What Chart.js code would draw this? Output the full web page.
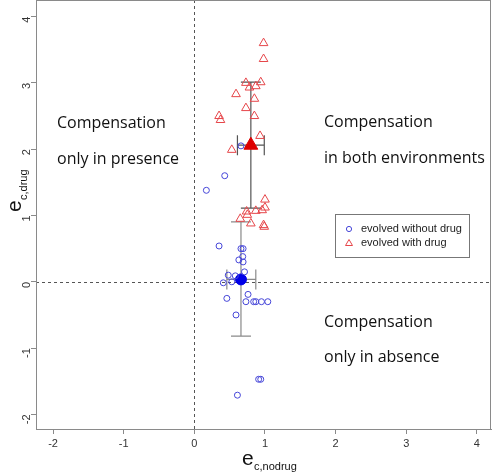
<!DOCTYPE html>
<html>
<head>
<meta charset="utf-8">
<script src="https://cdn.jsdelivr.net/npm/chart.js@4"></script>
<style>
  html, body { margin: 0; padding: 0; background: #fff; }
  #wrap { width: 494px; height: 473px; position: relative; }
</style>
</head>
<body>
<div id="wrap"><canvas id="plot"></canvas></div>
<script>
// evolved without drug (blue circles)
const noDrugX = [0.66, 0.43, 0.17, 0.35, 0.66, 0.69, 0.685, 0.63, 0.69, 0.71, 0.48, 0.58, 0.41,
                 0.53, 0.46, 0.76, 0.73, 0.84, 0.87, 0.95, 1.04, 0.59, 0.91, 0.94, 0.61];
const noDrugY = [2.05, 1.60, 1.38, 0.54, 0.50, 0.50, 0.38, 0.33, 0.30, 0.15, 0.10, 0.09, -0.015,
                 0.0, -0.25, -0.19, -0.30, -0.30, -0.30, -0.30, -0.30, -0.50, -1.47, -1.47, -1.71];

// evolved with drug (red triangles)
const drugX = [0.98, 0.98, 0.73, 0.94, 0.78, 0.87, 0.59, 0.85, 0.73, 0.35, 0.37, 0.85,
               0.93, 0.53, 1.00, 1.00, 0.74, 0.87, 0.96, 0.75, 0.65, 0.80, 0.98, 0.99];
const drugY = [3.60, 3.36, 3.00, 3.01, 2.93, 2.95, 2.83, 2.76, 2.62, 2.50, 2.44, 2.50,
               2.20, 1.99, 1.24, 1.12, 1.06, 1.07, 1.08, 1.01, 0.95, 0.88, 0.855, 0.83];

// group means with error ranges [low, high]
const noDrugMean = [0.66, 0.036];
const noDrugErrX = [0.46, 0.87];
const noDrugErrY = [-0.82, 0.905];
const drugMean = [0.80, 2.06];
const drugErrX = [0.61, 0.99];
const drugErrY = [1.11, 3.01];

const tickValues = [-2, -1, 0, 1, 2, 3, 4];
const legendLabels = ['evolved without drug', 'evolved with drug'];
const quadrantText = [
  ['Compensation', 'only in presence'],
  ['Compensation', 'in both environments'],
  ['Compensation', 'only in absence']
];

const BLUE = '#4646d8';
const RED = '#e6464a';
const AXIS = '#8a8a8a';

function pts(xs, ys){
  return xs.map((x, i) => ({ x: x, y: ys[i] }));
}

const decor = {
  id: 'decor',
  beforeDatasetsDraw(chart){
    const { ctx, chartArea: a, scales: { x, y } } = chart;
    ctx.save();
    // dashed zero lines
    ctx.strokeStyle = '#555';
    ctx.lineWidth = 1;
    ctx.setLineDash([3, 3]);
    const x0 = Math.round(x.getPixelForValue(0)) + 0.5;
    const y0 = Math.round(y.getPixelForValue(0)) + 0.5;
    ctx.beginPath();
    ctx.moveTo(x0, a.top); ctx.lineTo(x0, a.bottom);
    ctx.moveTo(a.left, y0); ctx.lineTo(a.right, y0);
    ctx.stroke();
    ctx.setLineDash([]);

    // error bars
    function errBars(mean, ex, ey, color){
      const cx = x.getPixelForValue(mean[0]), cy = y.getPixelForValue(mean[1]);
      const xl = x.getPixelForValue(ex[0]), xr = x.getPixelForValue(ex[1]);
      const yt = y.getPixelForValue(ey[1]), yb = y.getPixelForValue(ey[0]);
      const c = 10;
      ctx.strokeStyle = color;
      ctx.lineWidth = 1.2;
      ctx.beginPath();
      ctx.moveTo(cx, yt); ctx.lineTo(cx, yb);
      ctx.moveTo(cx - c, yt); ctx.lineTo(cx + c, yt);
      ctx.moveTo(cx - c, yb); ctx.lineTo(cx + c, yb);
      ctx.moveTo(xl, cy); ctx.lineTo(xr, cy);
      ctx.moveTo(xl, cy - c); ctx.lineTo(xl, cy + c);
      ctx.moveTo(xr, cy - c); ctx.lineTo(xr, cy + c);
      ctx.stroke();
    }
    errBars(noDrugMean, noDrugErrX, noDrugErrY, '#8a8a8a');
    errBars(drugMean, drugErrX, drugErrY, '#555');
    ctx.restore();
  },
  afterDraw(chart){
    const { ctx, chartArea: a } = chart;
    ctx.save();
    // box
    ctx.strokeStyle = AXIS;
    ctx.lineWidth = 1;
    ctx.strokeRect(a.left + 0.5, a.top + 0.5, a.right - a.left - 1, a.bottom - a.top);

    // quadrant annotations
    ctx.fillStyle = '#111';
    ctx.font = '16px "Open Sans", sans-serif';
    ctx.textBaseline = 'middle';
    ctx.textAlign = 'left';
    ctx.fillText(quadrantText[0][0], 57, 123);
    ctx.fillText(quadrantText[0][1], 57, 159);
    ctx.fillText(quadrantText[1][0], 324, 122);
    ctx.fillText(quadrantText[1][1], 324, 158);
    ctx.fillText(quadrantText[2][0], 324, 322);
    ctx.fillText(quadrantText[2][1], 324, 357);

    // legend
    ctx.strokeStyle = '#777';
    ctx.strokeRect(335.5, 214.5, 134, 43);
    ctx.font = '11px "Liberation Sans", Arial, sans-serif';
    ctx.fillStyle = '#222';
    ctx.fillText(legendLabels[0], 361, 229);
    ctx.fillText(legendLabels[1], 361, 243);
    ctx.lineWidth = 1;
    ctx.strokeStyle = BLUE;
    ctx.beginPath(); ctx.arc(349, 229, 2.6, 0, Math.PI * 2); ctx.stroke();
    ctx.strokeStyle = RED;
    ctx.beginPath();
    ctx.moveTo(349, 239.5); ctx.lineTo(352.5, 245.5); ctx.lineTo(345.5, 245.5); ctx.closePath();
    ctx.stroke();

    // axis titles with subscripts
    ctx.fillStyle = '#111';
    ctx.textBaseline = 'alphabetic';
    ctx.font = '21px "Liberation Sans", Arial, sans-serif';
    ctx.fillText('e', 242, 465);
    ctx.font = '11px "Liberation Sans", Arial, sans-serif';
    ctx.fillText('c,nodrug', 254, 470);

    ctx.rotate(-Math.PI / 2);
    ctx.font = '21px "Liberation Sans", Arial, sans-serif';
    ctx.fillText('e', -212, 21);
    ctx.font = '11px "Liberation Sans", Arial, sans-serif';
    ctx.fillText('c,drug', -200, 27);
    ctx.restore();
  }
};

new Chart(document.getElementById('plot'), {
  type: 'scatter',
  data: {
    datasets: [
      { label: legendLabels[0], data: pts(noDrugX, noDrugY), pointStyle: 'circle', radius: 3,
        borderColor: BLUE, backgroundColor: 'rgba(0,0,0,0)', borderWidth: 1 },
      { label: legendLabels[1], data: pts(drugX, drugY), pointStyle: 'triangle', radius: 5,
        borderColor: RED, backgroundColor: 'rgba(0,0,0,0)', borderWidth: 1 },
      { label: 'mean without drug', data: [{ x: noDrugMean[0], y: noDrugMean[1] }], pointStyle: 'circle',
        radius: 5.5, borderColor: '#0000e8', backgroundColor: '#0000e8', borderWidth: 1 },
      { label: 'mean with drug', data: [{ x: drugMean[0], y: drugMean[1] }], pointStyle: 'triangle',
        radius: 8, borderColor: '#dd0000', backgroundColor: '#dd0000', borderWidth: 1 }
    ]
  },
  options: {
    responsive: true,
    maintainAspectRatio: false,
    animation: false,
    layout: { autoPadding: false, padding: { top: 0, right: 3, left: 0, bottom: 0 } },
    plugins: { legend: { display: false }, tooltip: { enabled: false } },
    scales: {
      x: {
        type: 'linear',
        min: -2.242, max: 4.20,
        afterFit: s => { s.height = 44; s.paddingLeft = 0; s.paddingRight = 0; },
        afterBuildTicks: s => { s.ticks = tickValues.map(v => ({ value: v })); },
        grid: { drawOnChartArea: false, drawTicks: true, tickLength: 5, color: AXIS },
        border: { display: true, color: AXIS },
        ticks: { color: '#333', padding: 3, font: { family: '"Liberation Sans", Arial', size: 11 },
                 maxRotation: 0, minRotation: 0 }
      },
      y: {
        type: 'linear',
        min: -2.22, max: 4.25,
        afterFit: s => { s.width = 36; s.paddingTop = 0; s.paddingBottom = 0; },
        afterBuildTicks: s => { s.ticks = tickValues.map(v => ({ value: v })); },
        grid: { drawOnChartArea: false, drawTicks: true, tickLength: 5, color: AXIS },
        border: { display: true, color: AXIS },
        ticks: { color: '#333', padding: 4, font: { family: '"Liberation Sans", Arial', size: 11 },
                 minRotation: 90, maxRotation: 90 }
      }
    }
  },
  plugins: [decor]
});
</script>
</body>
</html>
